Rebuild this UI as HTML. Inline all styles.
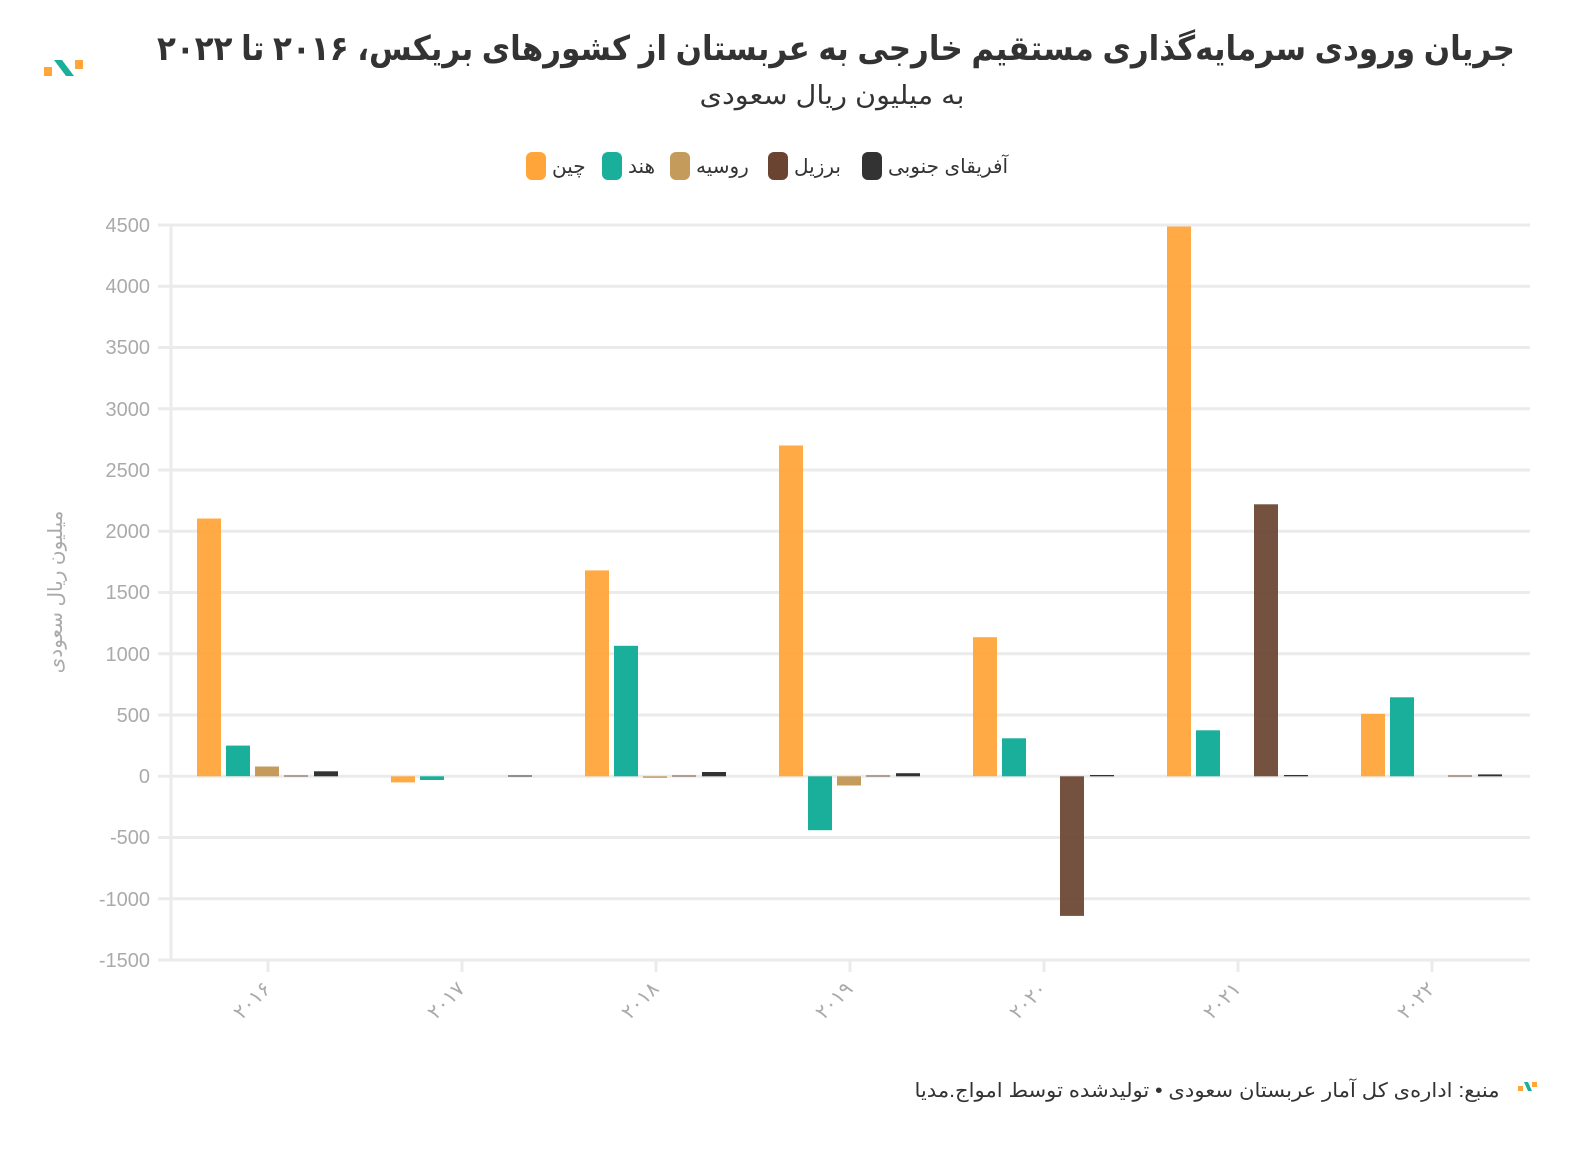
<!DOCTYPE html>
<html><head><meta charset="utf-8"><style>
html,body{margin:0;padding:0;background:#fff;width:1588px;height:1150px;overflow:hidden}
svg{display:block}
text{font-family:"Liberation Sans","DejaVu Sans",sans-serif}
</style></head><body>
<svg width="1588" height="1150" xmlns="http://www.w3.org/2000/svg">
<!-- logo -->
<rect x="44" y="67" width="8" height="9" fill="#ffa53a"/>
<rect x="75" y="60" width="8" height="9" fill="#ffa53a"/>
<path d="M54 60 L62 60 L74 76 L66 76 Z" fill="#1aaf9b"/>
<text x="836" y="60" text-anchor="middle" direction="rtl" font-size="34" font-weight="bold" fill="#333" textLength="1358" lengthAdjust="spacingAndGlyphs">جریان ورودی سرمایه‌گذاری مستقیم خارجی به عربستان از کشورهای بریکس، ۲۰۱۶ تا ۲۰۲۲</text>
<text x="832" y="104" text-anchor="middle" direction="rtl" font-size="26" fill="#333" textLength="265" lengthAdjust="spacingAndGlyphs">به میلیون ریال سعودی</text>
<!-- legend -->
<g font-size="20" fill="#333">
<rect x="526" y="152" width="20" height="28" rx="6" fill="#ffa53a"/><text x="552" y="173">چین</text>
<rect x="602" y="152" width="20" height="28" rx="6" fill="#1aaf9b"/><text x="628" y="173">هند</text>
<rect x="670" y="152" width="20" height="28" rx="6" fill="#c59b5c"/><text x="696" y="173">روسیه</text>
<rect x="768" y="152" width="20" height="28" rx="6" fill="#6b4431"/><text x="794" y="173">برزیل</text>
<rect x="862" y="152" width="20" height="28" rx="6" fill="#333"/><text x="888" y="173">آفریقای جنوبی</text>
</g>
<!-- grid -->
<g stroke="#ebebeb" stroke-width="3">
<line x1="158" y1="225" x2="1530" y2="225"/><line x1="158" y1="286.25" x2="1530" y2="286.25"/>
<line x1="158" y1="347.5" x2="1530" y2="347.5"/><line x1="158" y1="408.75" x2="1530" y2="408.75"/>
<line x1="158" y1="470" x2="1530" y2="470"/><line x1="158" y1="531.25" x2="1530" y2="531.25"/>
<line x1="158" y1="592.5" x2="1530" y2="592.5"/><line x1="158" y1="653.75" x2="1530" y2="653.75"/>
<line x1="158" y1="715" x2="1530" y2="715"/><line x1="158" y1="776.25" x2="1530" y2="776.25"/>
<line x1="158" y1="837.5" x2="1530" y2="837.5"/><line x1="158" y1="898.75" x2="1530" y2="898.75"/>
<line x1="158" y1="960" x2="1530" y2="960"/>
<line x1="171" y1="225" x2="171" y2="961"/>
<line x1="268" y1="961" x2="268" y2="972"/><line x1="462" y1="961" x2="462" y2="972"/><line x1="656" y1="961" x2="656" y2="972"/><line x1="850" y1="961" x2="850" y2="972"/><line x1="1044" y1="961" x2="1044" y2="972"/><line x1="1238" y1="961" x2="1238" y2="972"/><line x1="1432" y1="961" x2="1432" y2="972"/>
</g>
<g font-size="20" fill="#aaa" text-anchor="end">
<text x="150" y="232">4500</text><text x="150" y="293">4000</text><text x="150" y="354">3500</text><text x="150" y="416">3000</text><text x="150" y="477">2500</text><text x="150" y="538">2000</text><text x="150" y="599">1500</text><text x="150" y="661">1000</text><text x="150" y="722">500</text><text x="150" y="783">0</text><text x="150" y="844">-500</text><text x="150" y="906">-1000</text><text x="150" y="967">-1500</text>
</g>
<text transform="translate(62,592) rotate(-90)" text-anchor="middle" direction="rtl" font-size="20" fill="#aaa">میلیون ریال سعودی</text>
<g font-size="20" fill="#aaa" text-anchor="end">
<text transform="translate(272,990) rotate(-45)">۲۰۱۶</text>
<text transform="translate(466,990) rotate(-45)">۲۰۱۷</text>
<text transform="translate(660,990) rotate(-45)">۲۰۱۸</text>
<text transform="translate(854,990) rotate(-45)">۲۰۱۹</text>
<text transform="translate(1048,990) rotate(-45)">۲۰۲۰</text>
<text transform="translate(1242,990) rotate(-45)">۲۰۲۱</text>
<text transform="translate(1436,990) rotate(-45)">۲۰۲۲</text>
</g>
<!-- bars -->
<g fill="#ffa53a" opacity="0.95">
<rect x="197" y="518.5" width="24" height="257.8"/>
<rect x="391" y="776.3" width="24" height="6.1"/>
<rect x="585" y="570.4" width="24" height="205.9"/>
<rect x="779" y="445.5" width="24" height="330.8"/>
<rect x="973" y="637.2" width="24" height="139"/>
<rect x="1167" y="226.5" width="24" height="549.8"/>
<rect x="1361" y="713.8" width="24" height="62.5"/>
</g>
<g fill="#1aaf9b">
<rect x="226" y="745.6" width="24" height="30.6"/>
<rect x="420" y="776.3" width="24" height="3.7"/>
<rect x="614" y="645.8" width="24" height="130.5"/>
<rect x="808" y="776.3" width="24" height="53.9"/>
<rect x="1002" y="738.3" width="24" height="38"/>
<rect x="1196" y="730.3" width="24" height="46"/>
<rect x="1390" y="697.3" width="24" height="79"/>
</g>
<g fill="#c59b5c">
<rect x="255" y="766.5" width="24" height="9.8"/>
<rect x="643" y="776.3" width="24" height="1.5"/>
<rect x="837" y="776.3" width="24" height="9.2"/>
</g>
<g fill="#6b4431" opacity="0.93">
<rect x="284" y="775.5" width="24" height="1"/>
<rect x="672" y="775.5" width="24" height="1"/>
<rect x="866" y="775.5" width="24" height="1"/>
<rect x="1060" y="776.3" width="24" height="139.6"/>
<rect x="1254" y="504.3" width="24" height="272"/>
<rect x="1448" y="775.5" width="24" height="1"/>
</g>
<g fill="#333">
<rect x="314" y="771.3" width="24" height="5"/>
<rect x="508" y="775.5" width="24" height="1"/>
<rect x="702" y="772" width="24" height="4.3"/>
<rect x="896" y="773.2" width="24" height="3.1"/>
<rect x="1090" y="775" width="24" height="1.3"/>
<rect x="1284" y="775" width="24" height="1.3"/>
<rect x="1478" y="774.4" width="24" height="1.9"/>
</g>
<!-- footer -->
<text x="1207" y="1097" text-anchor="middle" direction="rtl" font-size="20" fill="#333" textLength="585" lengthAdjust="spacingAndGlyphs">منبع: اداره‌ی کل آمار عربستان سعودی • تولیدشده توسط امواج.مدیا</text>
<rect x="1518" y="1086" width="5" height="5" fill="#ffa53a"/>
<rect x="1532" y="1082" width="5" height="5" fill="#ffa53a"/>
<path d="M1524 1082 L1528 1082 L1532 1091 L1528 1091 Z" fill="#1aaf9b"/>
</svg>
</body></html>
